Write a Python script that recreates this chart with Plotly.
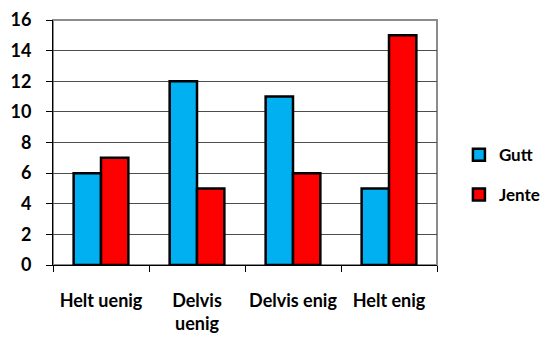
import plotly.graph_objects as go

categories = ["Helt uenig", "Delvis<br>uenig", "Delvis enig", "Helt enig"]
gutt = [6, 12, 11, 5]
jente = [7, 5, 6, 15]
y_ticks = [0, 2, 4, 6, 8, 10, 12, 14, 16]

FONT = "Lato"
xpos = list(range(len(categories)))

fig = go.Figure()
fig.add_trace(go.Bar(x=xpos, y=gutt, name="Gutt",
                     marker=dict(color="#00B0F0", line=dict(color="black", width=2.5)),
                     legend="legend"))
fig.add_trace(go.Bar(x=xpos, y=jente, name="Jente",
                     marker=dict(color="#FF0000", line=dict(color="black", width=2.5)),
                     legend="legend2"))
# invisible trace for boundary tick axis
fig.add_trace(go.Scatter(x=[-0.5, 3.5], y=[0, 0], xaxis="x2", mode="markers",
                         marker=dict(opacity=0), showlegend=False, hoverinfo="skip"))

fig.update_layout(
    width=544, height=338,
    margin=dict(l=53, r=107, t=20, b=73, autoexpand=False),
    paper_bgcolor="white", plot_bgcolor="white",
    barmode="group", bargap=0.43, bargroupgap=0,
    font=dict(family=FONT, color="black"),
    xaxis=dict(range=[-0.5, 3.5], tickvals=xpos, ticktext=categories,
               ticks="", showgrid=False, zeroline=False, showline=False, automargin=False,
               tickfont=dict(family=FONT, size=18, weight="bold"),
               ticklabelstandoff=23),
    xaxis2=dict(range=[-0.5, 3.5], overlaying="x", side="bottom",
                tickvals=[-0.5, 0.5, 1.5, 2.5, 3.5], showticklabels=False,
                ticks="outside", ticklen=6, tickcolor="black", tickwidth=1, automargin=False,
                showgrid=False, zeroline=False, showline=True, linecolor="black", linewidth=1),
    yaxis=dict(range=[0, 16], tickvals=y_ticks, ticks="outside", ticklen=6, automargin=False,
               tickcolor="black", showline=True, linecolor="black", linewidth=1,
               showgrid=True, gridcolor="#4d4d4d", gridwidth=1, zeroline=False,
               tickfont=dict(family=FONT, size=18, weight="bold"),
               ticklabelstandoff=11),
    legend=dict(xref="container", yref="container", x=0.8436, y=0.541,
                xanchor="left", yanchor="middle",
                font=dict(family=FONT, size=17, weight="bold"),
                bgcolor="rgba(0,0,0,0)", itemwidth=30),
    legend2=dict(xref="container", yref="container", x=0.8436, y=0.423,
                 xanchor="left", yanchor="middle",
                 font=dict(family=FONT, size=17, weight="bold"),
                 bgcolor="rgba(0,0,0,0)", itemwidth=30),
    shapes=[dict(type="rect", xref="x domain", yref="y domain", x0=0, x1=1, y0=0, y1=1,
                 line=dict(color="#8c8c8c", width=2), layer="below")],
)

fig.write_html("out.html", config={"displayModeBar": False},
               post_script="document.body.style.margin='0';")
